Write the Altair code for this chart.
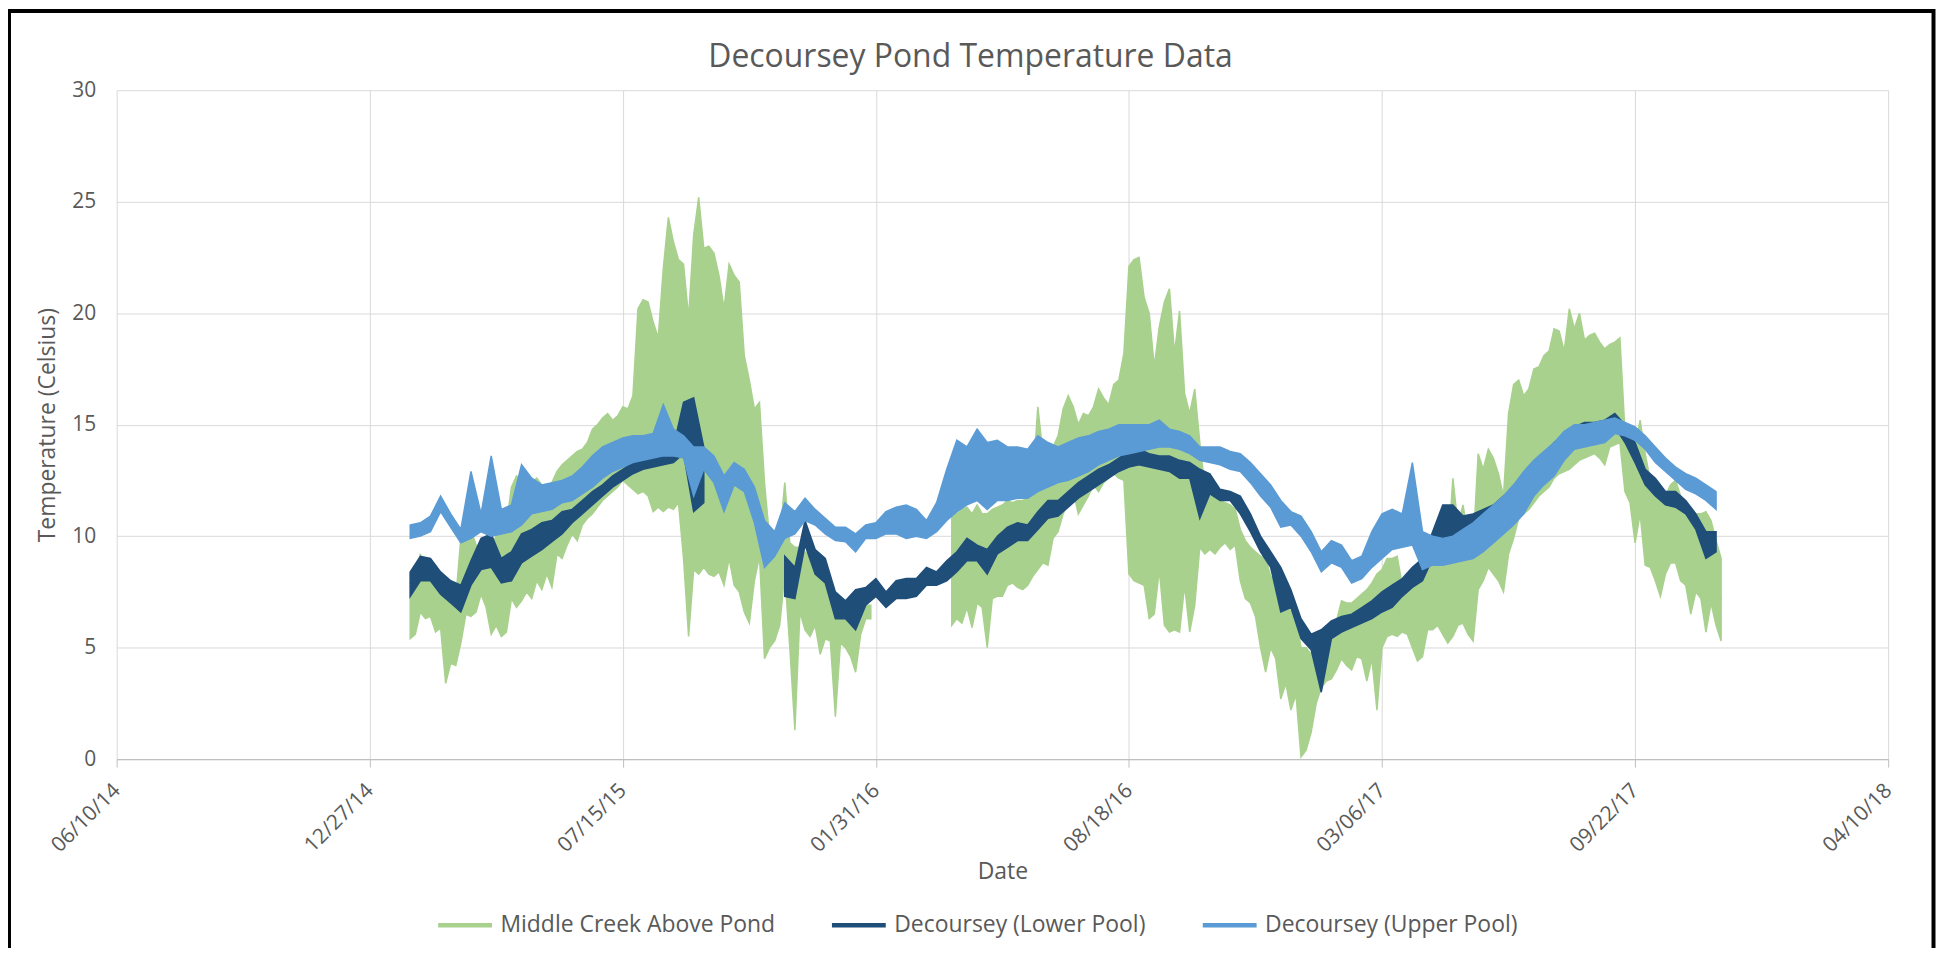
import altair as alt
import pandas as pd
from datetime import date, timedelta

TITLE = "Decoursey Pond Temperature Data"
SERIES = ["Middle Creek Above Pond", "Decoursey (Lower Pool)", "Decoursey (Upper Pool)"]
COLORS = ["#A9D18E", "#1F4E79", "#5B9BD5"]
TICK_DATES = [(2014, 6, 10), (2014, 12, 27), (2015, 7, 15), (2016, 1, 31),
              (2016, 8, 18), (2017, 3, 6), (2017, 9, 22), (2018, 4, 10)]
Y_TICKS = [0, 5, 10, 15, 20, 25, 30]

START = date(2015, 1, 28)
CREEK_STEP = 4   # days between creek samples
POOL_STEP = 8    # days between pool samples
N = None

# Middle Creek Above Pond: daily max / min envelope
creek_hi = [
    8.3, 8.0, 9.2, 8.0, 8.2, 7.8, 7.6, 7.5, 7.0, 7.2,
    9.9, 10.6, 10.3, 9.6, 9.5, 9.8, 9.6, 10.0, 10.1, 10.5,
    12.2, 12.7, 12.5, 12.8, 12.4, 12.6, 12.3, 12.2, 12.4, 12.9,
    13.2, 13.4, 13.6, 13.8, 13.9, 14.2, 14.8, 15.0, 15.3, 15.5,
    15.2, 15.4, 15.8, 15.7, 16.3, 20.2, 20.6, 20.5, 19.6, 18.9,
    22.0, 24.3, 23.2, 22.4, 22.2, 19.8, 23.5, 25.2, 22.9, 23.0,
    22.7, 21.7, 20.2, 22.2, 21.7, 21.4, 18.1, 17.0, 15.7, 16.0,
    12.4, 9.9, 9.9, 9.9, 12.4, 9.7, 9.5, 9.5, 9.3, 9.0,
    8.5, 8.2, 8.0, 7.6, 7.3, 7.2, 7.0, 6.9, 6.9, 6.9,
    6.9, 6.9, N, N, N, N, N, N, N, N,
    N, N, N, N, N, N, N, 11.2, 11.0, 11.2,
    11.3, 11.0, 11.4, 11.0, 11.0, 11.2, 11.3, 11.4, 11.6, 11.5,
    11.6, 11.6, 11.7, 12.5, 15.8, 13.7, 13.5, 14.0, 14.5, 15.7,
    16.3, 15.8, 15.0, 15.5, 15.4, 15.8, 16.6, 16.2, 15.9, 16.8,
    17.0, 18.2, 22.1, 22.4, 22.5, 20.7, 20.0, 17.6, 19.4, 20.5,
    21.1, 18.2, 20.1, 16.4, 15.5, 16.6, 14.2, 12.2, 12.0, 12.0,
    11.6, 11.5, 11.4, 11.2, 10.3, 9.8, 9.5, 9.3, 9.1, 9.0,
    8.2, 7.9, 7.5, 7.0, 6.6, 6.3, 5.0, 5.0, 4.7, 5.0,
    5.4, 5.6, 5.6, 6.2, 7.1, 7.0, 7.0, 7.2, 7.4, 7.6,
    7.9, 8.3, 8.5, 9.0, 9.0, 9.1, 7.8, 8.0, 8.5, 8.5,
    8.4, 9.0, 9.1, 9.0, 9.1, 9.1, 12.6, 10.5, 11.4, 10.0,
    9.5, 13.7, 13.0, 13.9, 13.5, 12.8, 11.8, 15.5, 16.8, 17.0,
    16.3, 16.6, 17.5, 17.6, 18.1, 18.3, 19.3, 19.2, 18.3, 20.2,
    19.3, 20.0, 18.8, 19.0, 19.1, 18.7, 18.4, 18.6, 18.7, 18.9,
    14.7, 14.5, 14.0, 15.2, 13.7, 12.5, 12.0, 11.6, 11.8, 12.3,
    12.5, 11.8, 11.5, 11.3, 11.0, 11.0, 11.1, 10.7, 9.8, 9.0,
]
creek_lo = [
    5.4, 5.6, 6.6, 6.3, 6.4, 5.7, 5.9, 3.4, 4.3, 4.2,
    5.2, 6.5, 6.4, 6.6, 7.4, 6.8, 5.6, 6.0, 5.5, 5.7,
    7.2, 6.8, 7.1, 7.5, 7.2, 8.0, 7.6, 8.3, 7.7, 9.2,
    9.0, 9.6, 10.1, 9.8, 10.5, 10.8, 11.0, 11.3, 11.6, 11.8,
    12.0, 12.2, 12.5, 12.3, 12.1, 11.9, 12.0, 11.8, 11.1, 11.3,
    11.1, 11.3, 11.2, 11.5, 9.0, 5.5, 8.5, 8.3, 8.6, 8.3,
    8.2, 8.4, 7.8, 9.0, 7.8, 7.5, 6.6, 6.1, 8.0, 9.1,
    4.5, 5.0, 5.3, 6.0, 8.3, 5.0, 1.3, 6.6, 5.8, 5.5,
    6.0, 4.7, 5.4, 5.3, 1.9, 5.2, 5.0, 4.6, 3.9, 5.6,
    6.3, 6.3, N, N, N, N, N, N, N, N,
    N, N, N, N, N, N, N, 6.0, 6.3, 6.1,
    6.8, 5.9, 7.0, 6.8, 5.0, 7.2, 7.3, 7.3, 7.8, 7.9,
    7.7, 7.6, 7.8, 8.2, 8.5, 8.8, 8.7, 9.9, 10.2, 11.0,
    11.5, 12.0, 11.0, 11.4, 11.8, 12.3, 12.0, 12.4, 12.6, 12.8,
    12.6, 12.5, 8.3, 8.0, 7.9, 7.8, 6.3, 6.5, 8.5, 6.0,
    5.7, 5.8, 5.7, 7.8, 5.7, 6.9, 9.5, 9.2, 9.4, 9.2,
    9.5, 9.7, 9.4, 9.6, 8.0, 7.2, 7.0, 6.4, 5.0, 3.9,
    5.0, 4.5, 2.7, 3.4, 2.2, 2.9, 0.1, 0.4, 1.2, 2.5,
    3.2, 3.5, 3.6, 4.0, 4.5, 4.2, 4.0, 4.6, 4.5, 3.5,
    4.5, 2.2, 5.0, 5.5, 5.6, 5.5, 5.7, 5.6, 5.0, 4.4,
    4.6, 5.8, 5.8, 6.0, 5.6, 5.2, 5.5, 6.0, 6.1, 5.6,
    5.3, 7.6, 8.0, 8.6, 8.3, 8.0, 7.5, 9.2, 9.9, 10.8,
    11.0, 11.2, 11.5, 11.8, 12.0, 12.2, 12.6, 12.8, 12.9, 13.0,
    13.2, 13.4, 13.5, 13.6, 13.7, 13.5, 13.2, 14.0, 14.1, 14.2,
    12.0, 11.5, 9.7, 11.0, 8.7, 8.6, 8.0, 7.3, 8.3, 8.8,
    8.8, 8.0, 7.8, 6.5, 7.5, 7.2, 5.7, 7.0, 6.0, 5.3,
]

# Decoursey (Lower Pool)
lower_hi = [
    8.4, 9.1, 9.0, 8.4, 8.0, 7.8, 8.9, 9.9, 10.1, 9.0,
    9.3, 10.1, 10.3, 10.6, 10.7, 11.1, 11.2, 11.6, 12.0, 12.3,
    12.7, 13.0, 13.3, 13.5, 13.6, 13.8, 14.0, 16.0, 16.2, 14.0,
    N, N, N, N, N, N, N, 9.1, 8.6, 10.7,
    9.4, 9.0, 7.5, 7.1, 7.6, 7.7, 8.1, 7.5, 8.0, 8.1,
    8.1, 8.6, 8.4, 8.9, 9.3, 9.9, 9.6, 9.4, 10.0, 10.4,
    10.6, 10.5, 11.1, 11.6, 11.6, 12.0, 12.4, 12.7, 13.0, 13.2,
    13.5, 13.8, 13.9, 13.7, 13.6, 13.6, 13.4, 13.3, 13.0, 12.8,
    12.1, 12.0, 11.8, 11.0, 10.0, 9.3, 8.6, 7.6, 6.3, 5.6,
    5.8, 6.2, 6.4, 6.5, 6.8, 7.1, 7.5, 7.8, 8.1, 8.6,
    9.0, 10.2, 11.4, 11.4, 10.9, 11.0, 11.2, 11.4, 11.8, 12.2,
    12.7, 13.2, 13.7, 14.2, 14.6, 14.9, 15.1, 15.1, 15.2, 15.5,
    15.0, 14.2, 13.0, 12.6, 12.0, 12.0, 11.6, 11.0, 10.2, 10.2,
]
lower_lo = [
    7.3, 8.0, 8.0, 7.4, 7.0, 6.6, 7.8, 8.5, 8.6, 7.9,
    8.0, 8.8, 9.1, 9.4, 9.75, 10.1, 10.6, 11.0, 11.4, 11.8,
    12.2, 12.5, 12.8, 13.0, 13.1, 13.2, 13.3, 13.7, 11.1, 11.5,
    N, N, N, N, N, N, N, 7.3, 7.2, 9.6,
    8.3, 7.9, 6.3, 6.3, 5.8, 6.9, 7.3, 6.8, 7.2, 7.2,
    7.3, 7.8, 7.8, 8.0, 8.4, 8.9, 8.9, 8.3, 9.2, 9.5,
    9.8, 9.8, 10.3, 10.8, 10.9, 11.3, 11.7, 12.0, 12.3, 12.6,
    12.9, 13.1, 13.2, 13.1, 13.0, 12.9, 12.6, 12.6, 10.8, 11.9,
    11.6, 11.6, 11.0, 10.2, 9.3, 8.6, 6.6, 6.8, 5.4, 4.9,
    3.0, 5.4, 5.7, 5.9, 6.1, 6.3, 6.6, 6.8, 7.3, 7.7,
    8.0, 9.0, 9.9, 10.0, 10.2, 10.4, 10.7, 10.9, 11.2, 11.5,
    11.9, 12.3, 12.8, 13.2, 13.7, 14.0, 14.3, 14.4, 14.6, 14.9,
    14.2, 13.3, 12.3, 11.8, 11.4, 11.3, 11.0, 10.3, 9.0, 9.3,
]

# Decoursey (Upper Pool)
upper_hi = [
    10.5, 10.6, 10.9, 11.8, 11.0, 10.3, 12.9, 11.0, 13.6, 11.2,
    11.4, 13.2, 12.6, 12.3, 12.4, 12.5, 12.7, 13.1, 13.6, 14.0,
    14.2, 14.4, 14.5, 14.5, 14.6, 15.9, 14.8, 14.5, 14.0, 14.0,
    13.6, 12.7, 13.3, 13.0, 12.2, 10.7, 10.2, 11.5, 11.1, 11.7,
    11.2, 10.8, 10.4, 10.4, 10.1, 10.5, 10.6, 11.1, 11.3, 11.4,
    11.2, 10.7, 11.5, 13.0, 14.3, 14.0, 14.8, 14.2, 14.3, 14.0,
    14.0, 13.9, 14.5, 14.2, 14.0, 14.2, 14.4, 14.5, 14.7, 14.8,
    15.0, 15.0, 15.0, 15.0, 15.2, 14.8, 14.7, 14.5, 14.0, 14.0,
    14.0, 13.8, 13.7, 13.3, 12.8, 12.3, 11.6, 11.1, 10.9, 10.2,
    9.3, 9.8, 9.6, 8.9, 9.1, 10.2, 11.0, 11.2, 11.0, 13.3,
    10.2, 10.0, 9.9, 10.0, 10.3, 10.6, 11.0, 11.4, 11.8, 12.3,
    12.9, 13.4, 13.8, 14.2, 14.7, 15.0, 15.0, 15.1, 15.2, 15.3,
    15.1, 14.9, 14.5, 14.0, 13.5, 13.1, 12.8, 12.6, 12.3, 12.0,
]
upper_lo = [
    9.9, 10.0, 10.2, 11.1, 10.4, 9.7, 9.9, 10.2, 10.0, 10.1,
    10.2, 10.5, 11.0, 11.1, 11.2, 11.5, 11.6, 11.9, 12.2, 12.6,
    12.9, 13.1, 13.3, 13.4, 13.5, 13.6, 13.6, 13.5, 11.8, 13.0,
    12.4, 11.1, 12.3, 12.0, 10.6, 8.6, 9.1, 9.9, 10.1, 10.7,
    10.5, 10.1, 9.8, 9.75, 9.3, 9.9, 9.9, 10.1, 10.1, 9.9,
    10.0, 9.9, 10.2, 10.7, 11.1, 11.4, 11.6, 11.2, 11.6, 11.6,
    11.7, 11.7, 12.0, 12.2, 12.4, 12.5, 12.7, 12.9, 13.2, 13.4,
    13.6, 13.7, 13.8, 13.9, 14.0, 14.0, 13.9, 13.7, 13.4, 13.3,
    13.2, 13.0, 12.9, 12.4, 11.8, 11.3, 10.4, 10.5, 10.0, 9.3,
    8.4, 8.8, 8.6, 7.9, 8.1, 8.6, 9.0, 9.4, 9.5, 9.6,
    8.5, 8.7, 8.7, 8.8, 8.9, 9.0, 9.3, 9.7, 10.1, 10.5,
    11.0, 11.8, 12.3, 12.7, 13.4, 13.9, 14.0, 14.1, 14.2, 14.6,
    14.5, 14.3, 13.9, 13.3, 12.9, 12.5, 12.1, 11.9, 11.6, 11.2,
]


def band(hi, lo, step, name):
    rows, seg, in_gap = [], 0, False
    for i, (h, l) in enumerate(zip(hi, lo)):
        if h is None or l is None:
            if not in_gap:
                seg += 1
            in_gap = True
            continue
        in_gap = False
        d = START + timedelta(days=step * i)
        rows.append({"date": d.isoformat(), "hi": h, "lo": l,
                     "mid": (h + l) / 2, "seg": seg, "series": name})
    return pd.DataFrame(rows)


creek = band(creek_hi, creek_lo, CREEK_STEP, SERIES[0])
lower = band(lower_hi, lower_lo, POOL_STEP, SERIES[1])
upper = band(upper_hi, upper_lo, POOL_STEP, SERIES[2])
allseries = pd.concat([creek, lower, upper], ignore_index=True)

FONT = "Open Sans"
TXT = "#595959"


def dt(t):
    return alt.DateTime(year=t[0], month=t[1], date=t[2], utc=True)


x_enc = alt.X(
    "date:T",
    title="Date",
    scale=alt.Scale(type="utc", domain=[dt(TICK_DATES[0]), dt(TICK_DATES[-1])], nice=False),
    axis=alt.Axis(
        values=[dt(t) for t in TICK_DATES], format="%m/%d/%y",
        labelAngle=315, labelAlign="right", labelBaseline="middle",
        labelPadding=20, tickSize=8, labelFontSize=21, labelFlush=False,
        labelOverlap=False, labelBound=False,
        titleFontSize=23, titleFontWeight="normal", titleY=120,
        titleBaseline="alphabetic", domainWidth=1.5,
    ),
)
y_axis = alt.Axis(
    values=Y_TICKS, ticks=False, tickSize=0, domain=False, labelPadding=21,
    labelFontSize=21, titleFontSize=23, titleFontWeight="normal",
    titleAngle=270, titleX=-69, titleY=335.5, titleAlign="center",
    titleBaseline="middle",
)
y_scale = alt.Scale(domain=[0, 30], nice=False)

legend_layer = alt.Chart(allseries).mark_line(strokeWidth=2).encode(
    x=x_enc,
    y=alt.Y("mid:Q", title="Temperature (Celsius)", scale=y_scale, axis=y_axis),
    detail="seg:N",
    color=alt.Color(
        "series:N",
        scale=alt.Scale(domain=SERIES, range=COLORS),
        legend=alt.Legend(
            title=None, orient="none", legendX=320, legendY=808,
            direction="horizontal", symbolType="stroke", symbolSize=2916,
            symbolStrokeWidth=4.5, labelFontSize=23, labelFont=FONT,
            labelColor=TXT, labelOffset=6, columnPadding=47, padding=0,
            labelLimit=500,
        ),
    ),
)


def area(df, color):
    return alt.Chart(df).mark_area(color=color, stroke=color, strokeWidth=1.5).encode(
        x=x_enc,
        y=alt.Y("hi:Q", title="Temperature (Celsius)", scale=y_scale, axis=y_axis),
        y2="lo:Q",
        detail="seg:N",
    )


frame = alt.Chart(pd.DataFrame({"k": [0]})).mark_rect(
    filled=False, color="black", strokeWidth=4
).encode(
    x=alt.value(-108), x2=alt.value(1822.5), y=alt.value(-79.5), y2=alt.value(900)
)

chart = alt.layer(
    legend_layer,
    area(creek, COLORS[0]),
    area(lower, COLORS[1]),
    area(upper, COLORS[2]),
    frame,
).properties(
    width=1777,
    height=671,
    autosize=alt.AutoSizeParams(type="none"),
    padding={"left": 109, "top": 81, "right": 48, "bottom": 188},
    title=alt.TitleParams(
        TITLE, fontSize=32, font=FONT, fontWeight="normal", color=TXT,
        anchor="middle", frame="group", dx=-32, offset=0, dy=90,
        baseline="alphabetic",
    ),
).configure_view(
    strokeWidth=0
).configure_axis(
    labelFont=FONT, titleFont=FONT, labelColor=TXT, titleColor=TXT,
    gridColor="#d9d9d9", gridWidth=1, domainColor="#bfbfbf", tickColor="#bfbfbf",
)

chart.save("out.html", embed_options={"renderer": "svg", "actions": False})
